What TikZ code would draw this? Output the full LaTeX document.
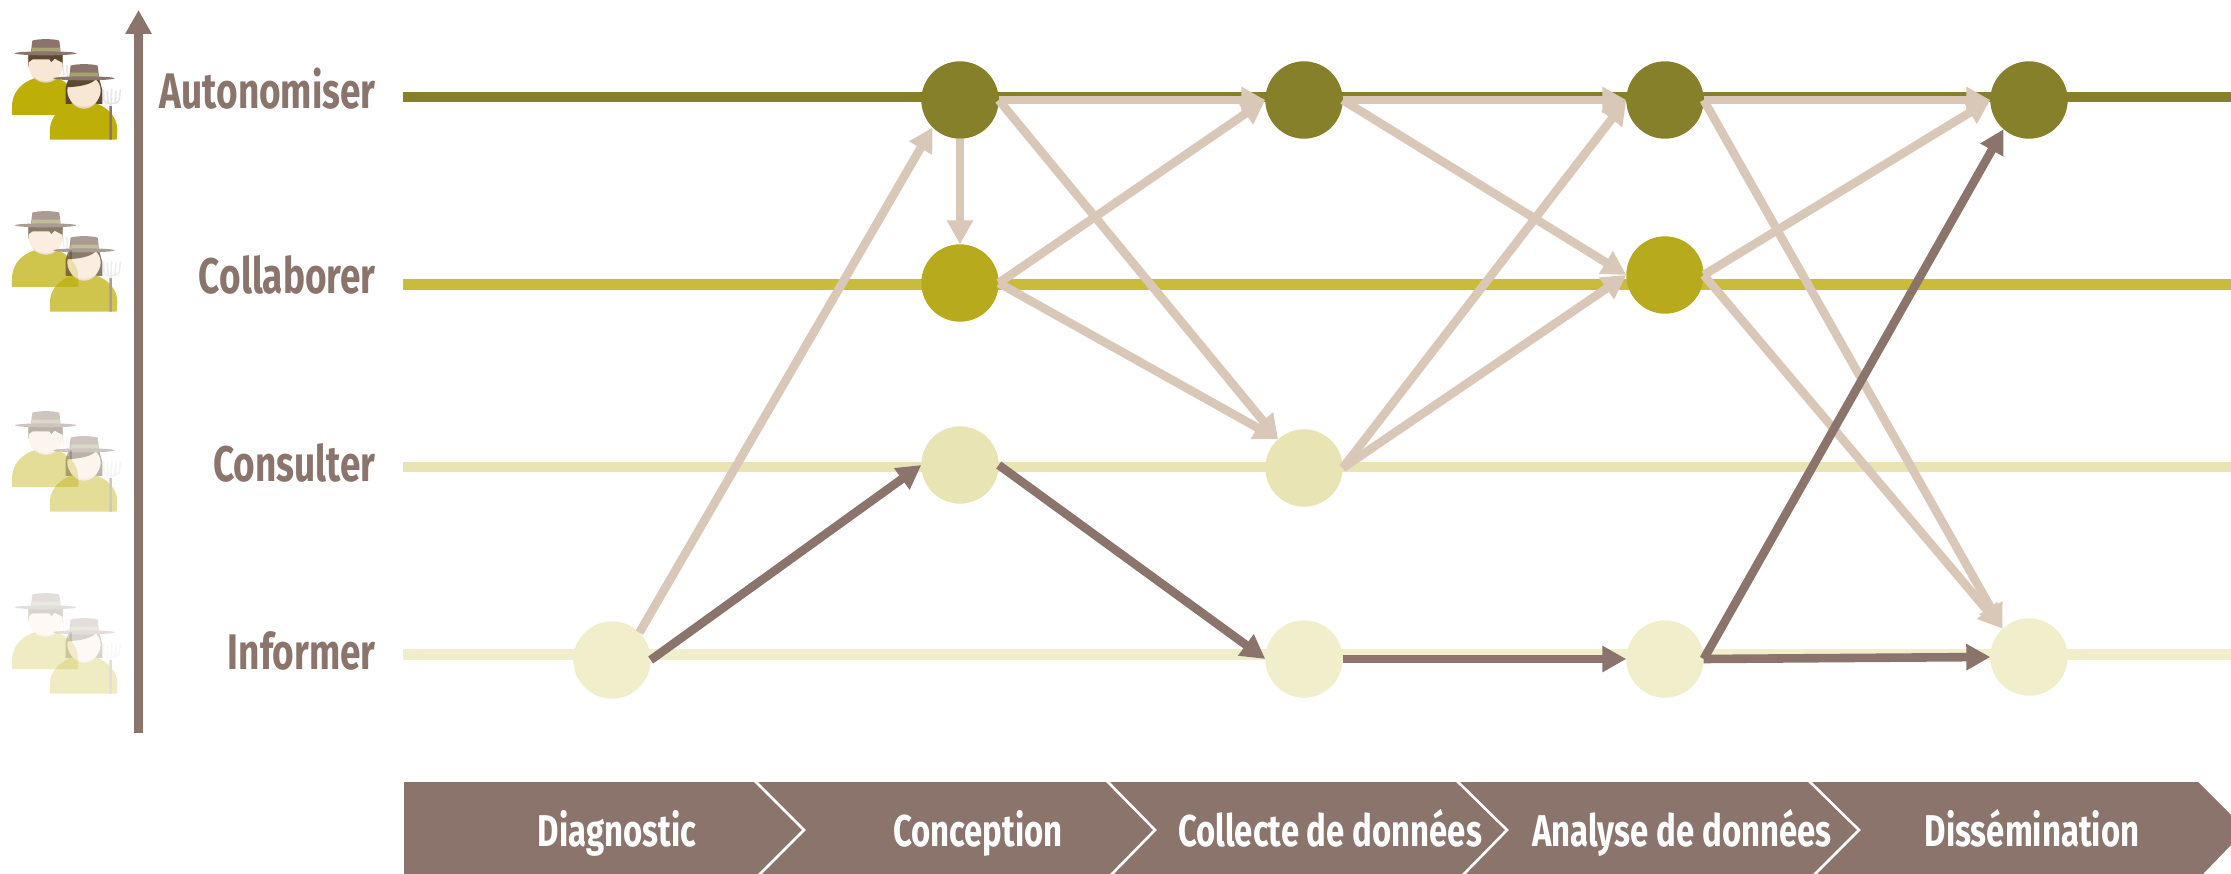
\documentclass[tikz,border=0pt]{standalone}
\usepackage{fontspec}
\usetikzlibrary{arrows.meta}
\setmainfont{Liberation Sans}
\newfontfamily\labfont[FakeStretch=0.74]{Fira Sans}
\definecolor{brownc}{HTML}{8B746C}
\definecolor{lightc}{HTML}{D9C8B8}
\definecolor{rowa}{HTML}{87802A}
\definecolor{rowb}{HTML}{C9BC3A}
\definecolor{rowbc}{HTML}{B7AA1C}
\definecolor{rowc}{HTML}{E8E4B4}
\definecolor{rowd}{HTML}{F1EECB}
\definecolor{shirt}{HTML}{BDAE08}
\definecolor{skin}{HTML}{F9E7D6}
\definecolor{skinb}{HTML}{EBD3BF}
\definecolor{hair}{HTML}{5C4A30}
\definecolor{band}{HTML}{A6A56F}
\definecolor{fork}{HTML}{E6E6E6}
\tikzset{
  pt/.style={circle,minimum size=77.4pt,inner sep=0pt,outer sep=0pt,fill=#1},
  rowline/.style={line width=10.5pt,draw=#1},
  lightarrow/.style={line width=8.6pt,draw=lightc,-{Triangle[length=24pt,width=25pt,fill=lightc]}},
  darkarrow/.style={line width=8.6pt,draw=brownc,-{Triangle[length=24pt,width=25pt,fill=brownc]}},
  levellabel/.style={anchor=base east,inner sep=0pt,text=brownc,font=\labfont\bfseries\fontsize{50}{50}\selectfont},
  phaselabel/.style={anchor=base,inner sep=0pt,text=white,font=\labfont\bfseries\fontsize{44.5}{44.5}\selectfont},
  phasesep/.style={draw=white,line width=2.6pt},
  tine/.style={draw=fork,line width=1.6pt}
}
\newcommand{\hatat}[2]{%
  \begin{scope}[shift={(#1,#2)}]
    \fill[brownc] (93,155) -- (97,122) .. controls (110,116) and (165,116) .. (178,122) -- (182,155) -- cycle;
    \fill[band] (96,143) rectangle (180,155);
    \fill[brownc] (137,160) ellipse [x radius=92,y radius=6];
  \end{scope}}
\newcommand{\farmers}[2]{%
  \begin{scope}[x=0.33333pt,y=-0.33333pt,shift={(0pt,-#1pt)}]
    \begin{scope}[transparency group,opacity=#2]
      \draw[brownc,line width=2.4pt] (212,235) -- (212,345);
      \draw[tine] (188,195) -- (192,225) (200,195) -- (203,232) (212,195) -- (212,235);
      \fill[shirt] (36,345) -- (36,320) .. controls (36,265) and (85,230) .. (137,230) .. controls (190,230) and (235,265) .. (235,320) -- (235,345) -- cycle;
      \fill[hair] (85,200) -- (85,165) -- (188,165) -- (188,200) -- cycle;
      \fill[skinb] (137,202) ellipse [x radius=48,y radius=46];
      \fill[skin] (137,197) ellipse [x radius=51,y radius=46];
      \fill[hair] (86,186) -- (98,178) -- (148,178) -- (154,186) -- (164,176) -- (187,188) -- (187,165) -- (86,165) -- cycle;
      \hatat{0}{0}
    \end{scope}
    \begin{scope}[transparency group,opacity=#2]
      \fill[hair] (197,312) -- (197,262) -- (205,238) -- (298,238) -- (307,270) -- (307,312) -- cycle;
      \fill[shirt] (150,419) -- (150,390) .. controls (150,340) and (200,305) .. (252,305) .. controls (305,305) and (352,340) .. (352,390) -- (350,419) -- cycle;
      \fill[skinb] (252,278) ellipse [x radius=46,y radius=48];
      \fill[skin] (252,272) ellipse [x radius=50,y radius=48];
      \fill[hair] (202,262) .. controls (235,260) and (270,255) .. (285,240) -- (205,238) -- cycle;
      \hatat{115}{75}
      \draw[brownc,line width=2.6pt] (332,318) -- (332,419);
      \draw[tine] (310,268) -- (312,300) .. controls (315,315) and (350,315) .. (358,300) -- (361,268)
        (322,272) -- (325,312) (335,266) -- (333,318) (348,272) -- (345,312);
    \end{scope}
  \end{scope}}
\begin{document}
\begin{tikzpicture}[x=1pt,y=-1pt]
\useasboundingbox (0,0) rectangle (2231,874);
% farmers
\farmers{0}{1}
\farmers{172}{0.72}
\farmers{372}{0.42}
\farmers{554}{0.24}
% axis
\coordinate (axb) at (138.5,733);
\coordinate (axt) at (138.5,10);
\draw[brownc,line width=9pt,-{Triangle[length=24pt,width=25pt]}] (axb) -- (axt);
% level labels
\node[levellabel] (lA) at (376,109) {Autonomiser};
\node[levellabel] (lB) at (376,294) {Collaborer};
\node[levellabel] (lC) at (376,482) {Consulter};
\node[levellabel] (lD) at (376,669) {Informer};
% rows
\coordinate (ra) at (403,97);   \coordinate (rae) at (2231,97);
\coordinate (rb) at (403,284.5);  \coordinate (rbe) at (2231,284.5);
\coordinate (rc) at (403,467);\coordinate (rce) at (2231,467);
\coordinate (rd) at (403,654.5);\coordinate (rde) at (2231,654.5);
\draw[rowline=rowa] (ra) -- (rae);
\draw[rowline=rowb] (rb) -- (rbe);
\draw[rowline=rowc] (rc) -- (rce);
\draw[rowline=rowd] (rd) -- (rde);
% nodes
\node[pt=rowa] (a1) at (960,100) {};
\node[pt=rowa] (a2) at (1304,100) {};
\node[pt=rowa] (a3) at (1665,100) {};
\node[pt=rowa] (a4) at (2029,100) {};
\node[pt=rowbc] (b1) at (960,283) {};
\node[pt=rowbc] (b3) at (1665,275) {};
\node[pt=rowc] (c1) at (960,465) {};
\node[pt=rowc] (c2) at (1304,468) {};
\node[pt=rowd] (d0) at (612,660) {};
\node[pt=rowd] (d2) at (1304,659) {};
\node[pt=rowd] (d3) at (1665,659) {};
\node[pt=rowd] (d4) at (2029,657) {};
% light arrows
\draw[lightarrow] (d0.45) -- (a1.225);
\draw[lightarrow] (a1.south) -- (b1.north);
\draw[lightarrow] (a1.east) -- (a2.west);
\draw[lightarrow] (b1.east) -- (a2.west);
\draw[lightarrow] (a1.east) -- (c2.132);
\draw[lightarrow] (b1.east) -- (c2.132);
\draw[lightarrow] (a2.east) -- (a3.west);
\draw[lightarrow] (a2.east) -- (b3.west);
\draw[lightarrow] (c2.east) -- (a3.west);
\draw[lightarrow] (c2.east) -- (b3.west);
\draw[lightarrow] (a3.east) -- (a4.west);
\draw[lightarrow] (b3.east) -- (a4.west);
\draw[lightarrow] (a3.east) -- (d4.133);
\draw[lightarrow] (b3.east) -- (d4.133);
% dark arrows
\draw[darkarrow] (d0.east) -- (c1.west);
\draw[darkarrow] (c1.east) -- (d2.west);
\draw[darkarrow] (d2.east) -- (d3.west);
\draw[darkarrow] (d3.east) -- (d4.west);
\draw[darkarrow] (d3.east) -- (a4.229);
% phase band
\fill[brownc] (404,782) -- (2198,782) -- (2231,815) -- (2231,845) -- (2203,874) -- (404,874) -- cycle;
\draw[phasesep] (755,781) -- (804,830) -- (759,875);
\draw[phasesep] (1107,781) -- (1155,830) -- (1111,875);
\draw[phasesep] (1457,781) -- (1507,830) -- (1463,875);
\draw[phasesep] (1809,781) -- (1859,830) -- (1814,875);
\node[phaselabel] (p1) at (617,846) {Diagnostic};
\node[phaselabel] (p2) at (978,846) {Conception};
\node[phaselabel] (p3) at (1330,846) {Collecte de données};
\node[phaselabel] (p4) at (1682,846) {Analyse de données};
\node[phaselabel] (p5) at (2032,846) {Dissémination};
\end{tikzpicture}
\end{document}
